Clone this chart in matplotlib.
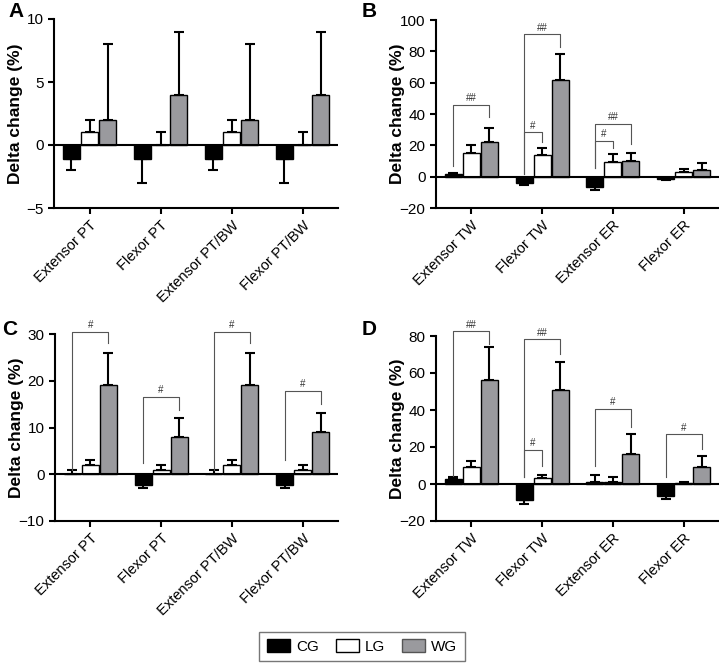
import matplotlib
matplotlib.use("Agg")
import matplotlib.pyplot as plt
from matplotlib.patches import Patch

plt.rcParams['font.family'] = ['Liberation Sans', 'DejaVu Sans']

W, H = 719, 663

# ---- datos ----
grupos = ["CG", "LG", "WG"]
colores = ["#000000", "#ffffff", "#9a9a9e"]

cat_pt = ["Extensor PT", "Flexor PT", "Extensor PT/BW", "Flexor PT/BW"]
cat_tw = ["Extensor TW", "Flexor TW", "Extensor ER", "Flexor ER"]

# Panel A
a_cg = [-1.1, -1.1, -1.1, -1.1]
a_cg_err = [0.9, 1.9, 0.9, 1.9]
a_lg = [1, 0, 1, 0]
a_lg_err = [1, 1, 1, 1]
a_wg = [2, 4, 2, 4]
a_wg_err = [6, 5, 6, 5]

# Panel B
b_cg = [1.7, -3.8, -6.8, -1.8]
b_cg_err = [0.6, 1.5, 1.5, 0.4]
b_lg = [15.4, 13.9, 9.3, 3]
b_lg_err = [5, 4.1, 5.3, 2]
b_wg = [22.2, 62, 10.1, 4]
b_wg_err = [9, 16, 5.3, 5]

# Panel C
c_cg = [0, -2.2, 0, -2.2]
c_cg_err = [1, 0.8, 1, 0.8]
c_lg = [2, 1, 2, 1]
c_lg_err = [1, 1, 1, 1]
c_wg = [19, 8, 19, 9]
c_wg_err = [7, 4, 7, 4]

# Panel D
d_cg = [2.5, -8.5, 1.3, -6.5]
d_cg_err = [1.5, 2.5, 3.7, 1.5]
d_lg = [9.2, 3, 1, 0.8]
d_lg_err = [3, 2, 3, 0.3]
d_wg = [56, 51, 16, 9]
d_wg_err = [18, 15, 11, 6]

# corchetes de significancia: (cat, grupo derecho, tope, pie izq, pie der, texto)
b_sig = [(0, 2, 46, 7, 38, "##"), (1, 2, 91, 2, 83, "##"), (1, 1, 28.5, 2, 22, "#"),
         (2, 2, 33.8, 5.4, 21, "##"), (2, 1, 22.9, 5.4, 18.6, "#")]
c_sig = [(0, 2, 30.5, 1, 28, "#"), (1, 2, 16.6, 2.3, 13.7, "#"),
         (2, 2, 30.5, 1, 28, "#"), (3, 2, 17.9, 3, 15.1, "#")]
d_sig = [(0, 2, 82.5, 4.5, 75.5, "##"), (1, 2, 78.2, 4, 70.5, "##"), (1, 1, 18.6, 4, 10, "#"),
         (2, 2, 40.6, 10, 30.7, "#"), (3, 2, 27, 3.6, 19, "#")]


def rect(l, r, t, b):
    return [l / W, 1 - b / H, (r - l) / W, (b - t) / H]


def panel(ax, cats, series, errs, ylim, yticks, sig):
    desp = [-0.255, 0, 0.255]
    for k, (vals, err) in enumerate(zip(series, errs)):
        xs = [i + desp[k] for i in range(len(cats))]
        ax.bar(xs, vals, width=0.24, color=colores[k], edgecolor="black",
               linewidth=1.0, zorder=2)
        abajo = [e if v < 0 else 0 for v, e in zip(vals, err)]
        arriba = [0 if v < 0 else e for v, e in zip(vals, err)]
        ax.errorbar(xs, vals, yerr=[abajo, arriba], fmt="none", ecolor="black",
                    elinewidth=1.5, capsize=3.5, capthick=1.5, zorder=1)
    ax.axhline(0, color="black", lw=1.5, zorder=3)
    for (c, g, top, yl, yr, txt) in sig:
        x1 = c + desp[0]
        x2 = c + desp[g]
        ax.plot([x1, x1, x2, x2], [yl, top, top, yr], color="#555555", lw=0.8,
                clip_on=False, zorder=4)
        rng = ylim[1] - ylim[0]
        ax.text((x1 + x2) / 2, top + rng * 0.008, txt, ha="center", va="bottom",
                fontsize=7, color="#333333", clip_on=False)
    ax.set_xlim(-0.5, len(cats) - 0.5)
    ax.set_ylim(*ylim)
    ax.set_yticks(yticks)
    ax.set_yticklabels([str(t).replace("-", "\u2212") for t in yticks], fontsize=11)
    ax.set_xticks(range(len(cats)))
    ax.set_xticklabels(cats, rotation=45, ha="right", rotation_mode="anchor", fontsize=10.5)
    ax.spines["top"].set_visible(False)
    ax.spines["right"].set_visible(False)
    ax.spines["left"].set_linewidth(1.5)
    ax.spines["bottom"].set_linewidth(1.5)
    ax.tick_params(axis="both", width=1.5, length=4)
    ax.set_ylabel("Delta change (%)", fontsize=12.5, fontweight="bold")
    # borde derecho de la etiqueta a ~31 px del eje
    ax.yaxis.set_label_coords(-31 / 283, 0.5)
    return ax


fig = plt.figure(figsize=(W / 100, H / 100), dpi=100)

axA = fig.add_axes(rect(54, 338, 19, 208))
panel(axA, cat_pt, [a_cg, a_lg, a_wg], [a_cg_err, a_lg_err, a_wg_err],
      (-5, 10), [-5, 0, 5, 10], [])
axB = fig.add_axes(rect(436, 719, 20, 208))
panel(axB, cat_tw, [b_cg, b_lg, b_wg], [b_cg_err, b_lg_err, b_wg_err],
      (-20, 100), [-20, 0, 20, 40, 60, 80, 100], b_sig)
axC = fig.add_axes(rect(55, 338, 334, 521))
panel(axC, cat_pt, [c_cg, c_lg, c_wg], [c_cg_err, c_lg_err, c_wg_err],
      (-10, 30), [-10, 0, 10, 20, 30], c_sig)
axD = fig.add_axes(rect(436, 719, 336, 521))
panel(axD, cat_tw, [d_cg, d_lg, d_wg], [d_cg_err, d_lg_err, d_wg_err],
      (-20, 80), [-20, 0, 20, 40, 60, 80], d_sig)

# letras de panel
for letra, x, y in [("A", 8, 2), ("B", 362, 2), ("C", 2, 320), ("D", 362, 320)]:
    fig.text(x / W, 1 - y / H, letra, fontsize=15, fontweight="bold", va="top", ha="left")

# leyenda
manijas = [Patch(facecolor=c, edgecolor="black" if i < 2 else "#555555", linewidth=1)
           for i, c in enumerate(colores)]
ley = fig.legend(manijas, grupos, loc="center", bbox_to_anchor=(362 / W, 1 - 646.5 / H),
                 ncol=3, fontsize=11, frameon=True, fancybox=False, edgecolor="#555555",
                 handlelength=1.5, handleheight=0.9, handletextpad=0.4,
                 columnspacing=1.1, borderpad=0.5)
ley.get_frame().set_linewidth(1.0)

fig.savefig("out.png", dpi=100)
